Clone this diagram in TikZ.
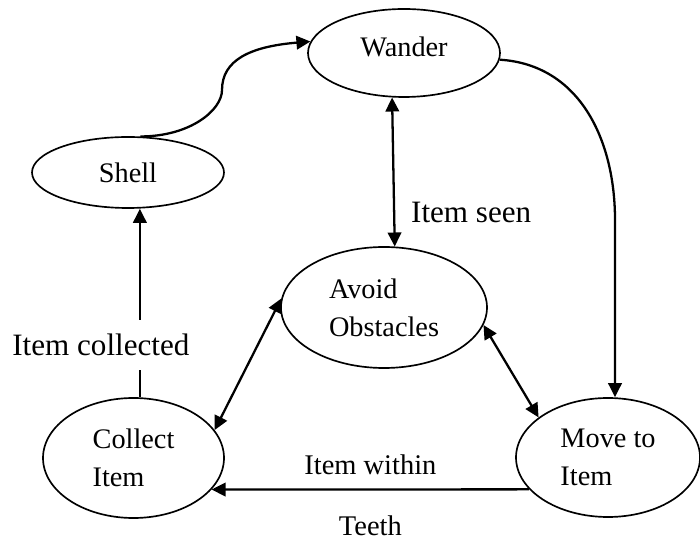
\documentclass[tikz,border=0pt]{standalone}
\usepackage{fontspec}
\setmainfont{Liberation Serif}
\usetikzlibrary{arrows.meta, positioning, shapes.geometric}

\begin{document}
\begin{tikzpicture}[
  state/.style={draw, ellipse, line width=0.95pt, inner sep=0pt, align=left, font=\fontsize{16.1}{21.5}\selectfont},
  func/.style={-{Triangle[length=0.28cm, width=0.27cm]}, line width=1.3pt},
  bidir/.style={{Triangle[length=0.28cm, width=0.27cm]}-{Triangle[length=0.28cm, width=0.27cm]}, line width=1.3pt},
  biglabel/.style={font=\fontsize{17.7}{21}\selectfont},
  smalllabel/.style={font=\fontsize{16.2}{19}\selectfont, inner sep=0pt}
]
\useasboundingbox (0,0) rectangle (14,10.8);

% States
\node[state, minimum width=3.84cm, minimum height=1.76cm, text depth=0.26cm] (W) at (8.08,9.74) {Wander};
\node[state, minimum width=3.84cm, minimum height=1.42cm] (S) at (2.56,7.35) {Shell};
\node[state, minimum width=4.12cm, minimum height=2.42cm] (A) at (7.68,4.65) {Avoid\\Obstacles};
\node[state, minimum width=3.62cm, minimum height=2.4cm] (C) at (2.67,1.64) {Collect\\Item};
\node[state, minimum width=3.68cm, minimum height=2.38cm] (M) at (12.16,1.65) {Move to\\Item};

% Shell to Wander (S-curve)
\coordinate (sbend) at (4.44,9.0);
\draw[func] (S.71) .. controls +(1.0,0) and +(0,-0.4) .. (sbend) .. controls +(0,0.6) and +(-1.2,-0.1) .. (W.173);

% Wander to Move to Item
\coordinate (wturn) at (12.3,6.4);
\draw[func] (W.356) .. controls +(1.6,-0.1) and +(0,1.6) .. (wturn) -- (wturn |- M.north);

% Wander <-> Avoid Obstacles
\draw[bidir] (W.255) -- node[biglabel, pos=0.77, right=0.2cm] {Item seen} (A.80);

% Collect Item to Shell
\draw[func] (C.84) -- node[biglabel, pos=0.28, fill=white, xshift=-0.78cm, minimum height=1cm] {Item collected} (C.84 |- S.south);

% Avoid Obstacles <-> Collect / Move
\draw[bidir] (A.175) -- (C.19);
\draw[bidir] (A.350) -- (M.150);

% Move to Item to Collect Item
\draw[func] (M.202) -- node[smalllabel, midway, above=0.27cm] {Item within} node[smalllabel, midway, below=0.5cm] {Teeth} (C.338);

\end{tikzpicture}
\end{document}
